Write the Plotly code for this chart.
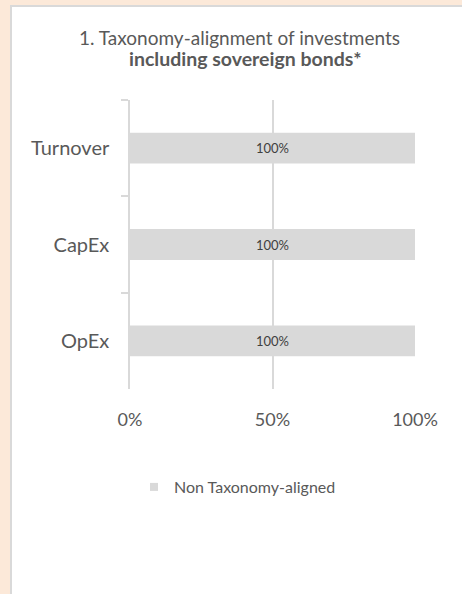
import plotly.graph_objects as go

# Chart data
categories = ["Turnover", "CapEx", "OpEx"]
non_aligned = [1.0, 1.0, 1.0]
x_ticks = [0, 0.5, 1.0]
x_tick_labels = ["0%", "50%", "100%"]
series_name = "Non Taxonomy-aligned"
title_line1 = "1. Taxonomy-alignment of investments"
title_line2 = "including sovereign bonds*"

W, H = 462, 594
FONT = "Lato"
TEXT = "#595959"
GRID = "#D9D9D9"
BAR = "#D9D9D9"

fig = go.Figure()

fig.add_trace(go.Bar(
    y=categories,
    x=non_aligned,
    orientation="h",
    name=series_name,
    marker=dict(color=BAR, line=dict(width=0)),
    texttemplate="%{x:.0%}",
    textposition="inside",
    insidetextanchor="middle",
    textfont=dict(family=FONT, size=13, color="#404040"),
    showlegend=False,
    hoverinfo="skip",
))

# legend entry with a small square swatch
fig.add_trace(go.Scatter(
    x=[None], y=[None],
    mode="markers",
    name=series_name,
    marker=dict(symbol="square", size=8, color=BAR),
    showlegend=True,
))

fig.update_layout(
    width=W, height=H,
    margin=dict(l=130, r=47, t=100, b=205),
    paper_bgcolor="#FCE9D9",
    plot_bgcolor="rgba(0,0,0,0)",
    font=dict(family=FONT, color=TEXT),
    bargap=0.68,
    legend=dict(
        orientation="h",
        xref="container", x=134 / W, xanchor="left",
        yref="container", y=1 - 487 / H, yanchor="middle",
        font=dict(family=FONT, size=16, color=TEXT),
        bgcolor="rgba(0,0,0,0)",
    ),
    shapes=[dict(
        type="rect", xref="paper", yref="paper",
        x0=-119 / 285, x1=1.5, y0=-1.0, y1=1 + 94 / 289,
        fillcolor="white", line=dict(color=GRID, width=2),
        layer="below",
    )],
    annotations=[
        dict(text=title_line1, xref="paper", yref="paper",
             x=(239 - 130) / 285, y=(389 - 37) / 289,
             xanchor="center", yanchor="middle", showarrow=False,
             font=dict(family=FONT, size=19, color=TEXT)),
        dict(text=f"<b>{title_line2}</b>", xref="paper", yref="paper",
             x=(245 - 130) / 285, y=(389 - 58) / 289,
             xanchor="center", yanchor="middle", showarrow=False,
             font=dict(family=FONT, size=19.5, color=TEXT)),
    ],
)

fig.update_xaxes(
    range=[0, 1],
    tickvals=x_ticks,
    ticktext=x_tick_labels,
    showgrid=True, gridcolor=GRID, gridwidth=1.5,
    zeroline=False, showline=False,
    ticks="",
    ticklabelstandoff=18,
    tickfont=dict(family=FONT, size=18, color=TEXT),
    fixedrange=True,
)

fig.update_yaxes(
    categoryorder="array", categoryarray=categories,
    autorange="reversed",
    showgrid=False, zeroline=False,
    showline=True, linecolor=GRID, linewidth=1.5,
    ticks="outside", tickson="boundaries", ticklen=7, tickcolor=GRID, tickwidth=1.5,
    ticklabelstandoff=15,
    tickfont=dict(family=FONT, size=20, color=TEXT),
    fixedrange=True,
)

fig.write_html("out.html", config={"displayModeBar": False})
